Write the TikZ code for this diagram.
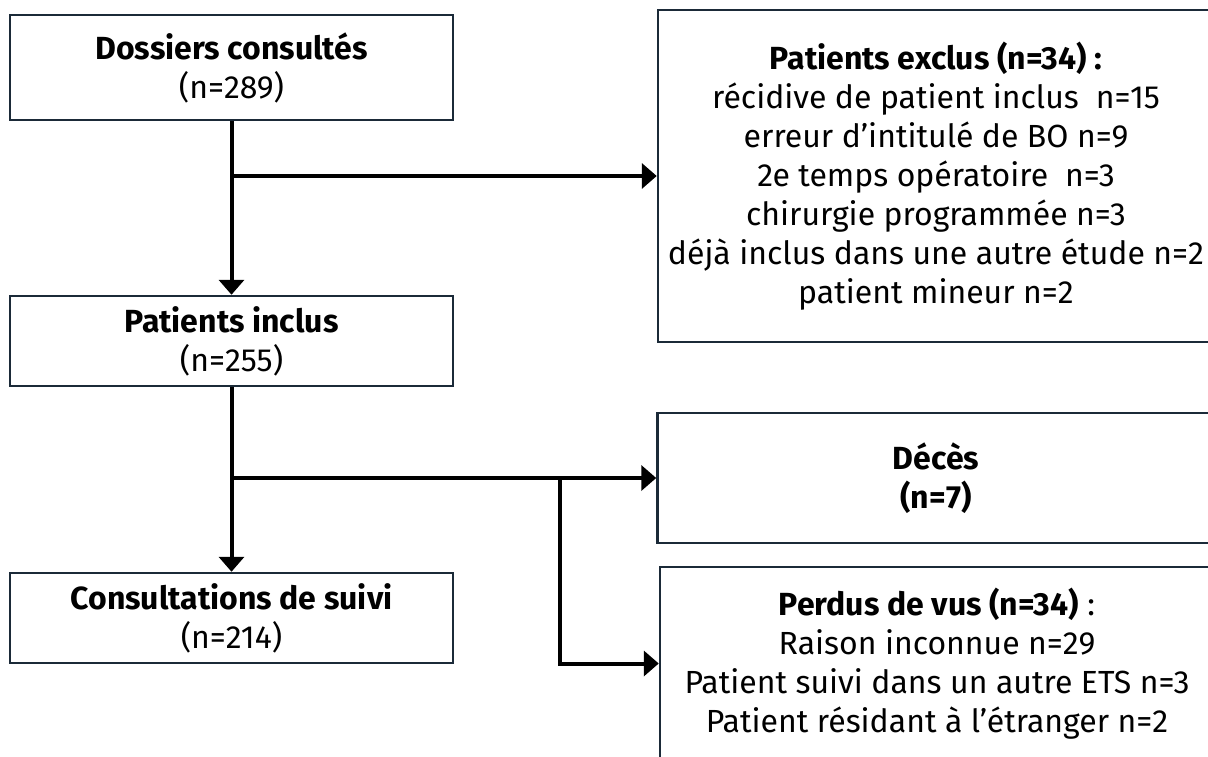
\documentclass[tikz,border=0pt]{standalone}
\usepackage{fontspec}
\setmainfont{Fira Sans}
\usetikzlibrary{arrows.meta}
\definecolor{boxline}{HTML}{1B2A38}

\tikzset{
  flowbox/.style={draw=boxline, line width=2.5pt, inner sep=0pt},
  link/.style={line width=4pt}
}

\begin{document}
\begin{tikzpicture}[x=1pt, y=-1pt, >={Triangle[length=15pt,width=25pt]},
  every node/.style={font=\fontsize{32}{39}\selectfont, align=center}]

  \useasboundingbox (0,0) rectangle (1208,756);

  % --- column positions ---
  \def\xleft{231.5}
  \def\xright{936}
  \def\xsplit{560}

  % ============================================================
  % left column: main flow
  % ============================================================
  \node[flowbox, minimum width=443pt, minimum height=105pt] (dossiers) at (\xleft,67.5)
    {\textbf{Dossiers consultés}\\(n=289)};
  \node[flowbox, minimum width=443pt, minimum height=90pt] (inclus) at (\xleft,341)
    {\textbf{Patients inclus}\\(n=255)};
  \node[flowbox, minimum width=443pt, minimum height=90pt] (suivi) at (\xleft,618)
    {\textbf{Consultations de suivi}\\(n=214)};

  % ============================================================
  % right column: exclusions and losses
  % ============================================================
  \node[flowbox, minimum width=556pt, minimum height=332pt] (exclus) at (\xright,176)
    {\textbf{Patients exclus (n=34) :}\\
     récidive de patient inclus\ \ n=15\\
     erreur d’intitulé de BO n=9\\
     2e temps opératoire\ \ n=3\\
     chirurgie programmée n=3\\
     déjà inclus dans une autre étude n=2\\
     patient mineur n=2};
  \node[flowbox, minimum width=557pt, minimum height=130pt] (deces) at (\xright,478)
    {\textbf{Décès}\\\textbf{(n=7)}};
  \node[flowbox, minimum width=554pt, minimum height=193pt] (perdus) at (937,663.5)
    {\textbf{Perdus de vus (n=34)} :\\
     Raison inconnue n=29\\
     Patient suivi dans un autre ETS n=3\\
     Patient résidant à l’étranger n=2};

  % --- branch points ---
  \coordinate (b1) at (dossiers.south |- exclus.west);
  \coordinate (b2) at (inclus.south |- deces.west);
  \coordinate (b3) at (\xsplit,478);
  \coordinate (b4) at (\xsplit,663.5);

  % --- connectors ---
  \draw[link, ->] (dossiers) -- (inclus);
  \draw[link, ->] (b1) -- (exclus.west);
  \draw[link, ->] (inclus) -- (suivi);
  \draw[link, ->] (b2) -- (deces.west);
  \draw[link, ->] (b3) -- (b4) -- (perdus.west);

\end{tikzpicture}
\end{document}
